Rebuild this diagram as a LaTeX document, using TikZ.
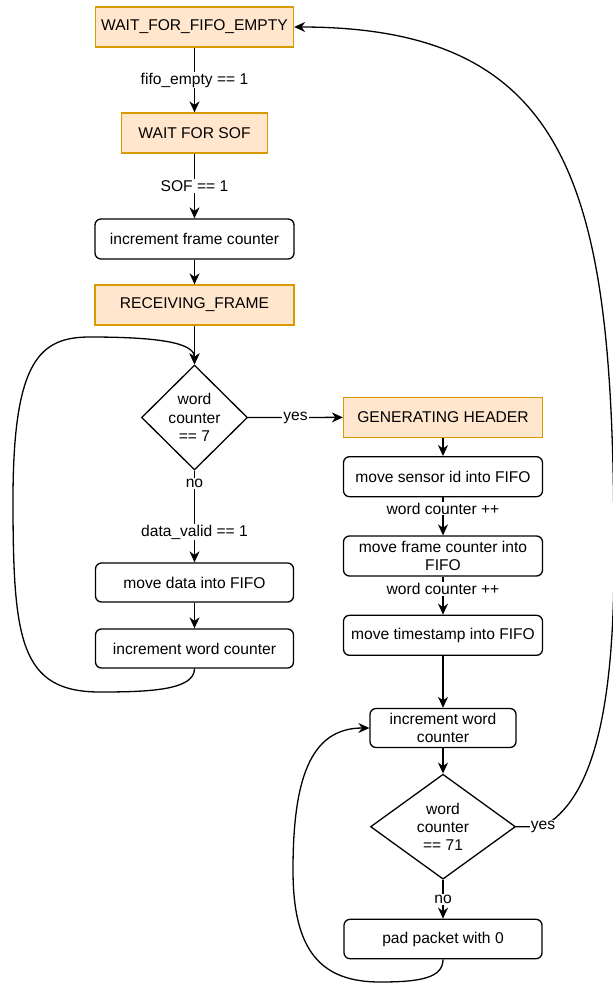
\documentclass[tikz,border=0pt]{standalone}
\usepackage{fontspec}
\setmainfont{Liberation Sans}
\usetikzlibrary{arrows.meta,shapes.geometric}
\definecolor{stateFill}{HTML}{FFE6CC}
\definecolor{stateLine}{HTML}{D79B00}
\begin{document}
\begin{tikzpicture}[x=1pt,y=-1pt,
  font=\fontsize{15.6}{18.3}\selectfont,
  every node/.style={inner sep=0pt, align=center},
  state/.style={draw=stateLine, fill=stateFill, line width=1.3pt, minimum height=40pt},
  action/.style={draw=black, rounded corners=6pt, line width=1.3pt, minimum height=40pt},
  decision/.style={draw=black, diamond, line width=1.3pt},
  flow/.style={draw=black, line width=1.3pt, -{Stealth[length=11pt,width=10pt,inset=3.5pt]}},
  edgelabel/.style={fill=white, inner sep=1pt},
]
\useasboundingbox (0,0) rectangle (613,983);

% left column: frame reception
\node[state, minimum width=198pt] (waitfifo) at (194.5,27) {WAIT\_FOR\_FIFO\_EMPTY};
\node[state, minimum width=146pt] (waitsof) at (194.5,133) {WAIT FOR SOF};
\node[action, minimum width=199pt] (incframe) at (194.5,239) {increment frame counter};
\node[state, minimum width=199pt] (recv) at (194.5,305) {RECEIVING\_FRAME};
\node[decision, minimum width=106pt, minimum height=105pt] (wc7) at (194.5,417.5) {};
\node (wc7text) at (wc7) {word\\counter\\== 7};
\node[action, minimum width=198pt, minimum height=39pt] (movedata) at (194.5,582.5) {move data into FIFO};
\node[action, minimum width=198pt, minimum height=39pt] (incword) at (194.5,648.5) {increment word counter};

% right column: header generation and padding
\node[state, minimum width=199pt] (genhdr) at (443,417.3) {GENERATING HEADER};
\node[action, minimum width=199pt] (movesensor) at (443,476.7) {move sensor id into FIFO};
\node[action, minimum width=199pt] (moveframe) at (443,556) {move frame counter into\\FIFO};
\node[action, minimum width=199pt] (movets) at (443,635.3) {move timestamp into FIFO};
\node[action, minimum width=146pt, minimum height=39pt] (incword2) at (443,728) {increment word\\counter};
\node[decision, minimum width=145pt, minimum height=105pt] (wc71) at (443,826.7) {};
\node (wc71text) at (wc71) {word\\counter\\== 71};
\node[action, minimum width=198pt, minimum height=39.4pt] (pad) at (443,939) {pad packet with 0};

% transitions, left column
\draw[flow] (waitfifo) -- node[edgelabel]{fifo\_empty == 1} (waitsof);
\draw[flow] (waitsof) -- node[edgelabel]{SOF == 1} (incframe);
\draw[flow] (incframe) -- (recv);
\draw[flow] (recv) -- (wc7);
\draw[flow] (wc7) -- node[edgelabel]{yes} (genhdr);
\draw[flow] (wc7.south) -- node[edgelabel, pos=0.14]{no} node[edgelabel, pos=0.67]{data\_valid == 1} (movedata.north);
\draw[flow] (movedata) -- (incword);
\draw[flow] (incword.south) .. controls (194.5,690) and (150,692) .. (100,692)
  .. controls (20,692) and (13,640) .. (13,500)
  .. controls (13,360) and (40,337) .. (90,337)
  .. controls (170,337) and (194.5,345) .. (wc7.north);

% transitions, right column
\draw[flow] (genhdr) -- (movesensor);
\draw[flow] (movesensor) -- node[edgelabel, pos=0.3]{word counter ++} (moveframe);
\draw[flow] (moveframe) -- node[edgelabel, pos=0.33]{word counter ++} (movets);
\draw[flow] (movets) -- (incword2);
\draw[flow] (incword2) -- (wc71);
\draw[flow] (wc71) -- node[edgelabel]{no} (pad);
\draw[flow] (pad.south) .. controls (443,978) and (420,982) .. (380,982)
  .. controls (320,982) and (293,950) .. (293,870)
  .. controls (293,780) and (310,728) .. (incword2.west);
\draw[flow] (wc71.east) -- (543,826.7) node[edgelabel]{yes}
  .. controls (590,800) and (614,720) .. (614,560)
  .. controls (614,200) and (580,27) .. (waitfifo.east);
\end{tikzpicture}
\end{document}
